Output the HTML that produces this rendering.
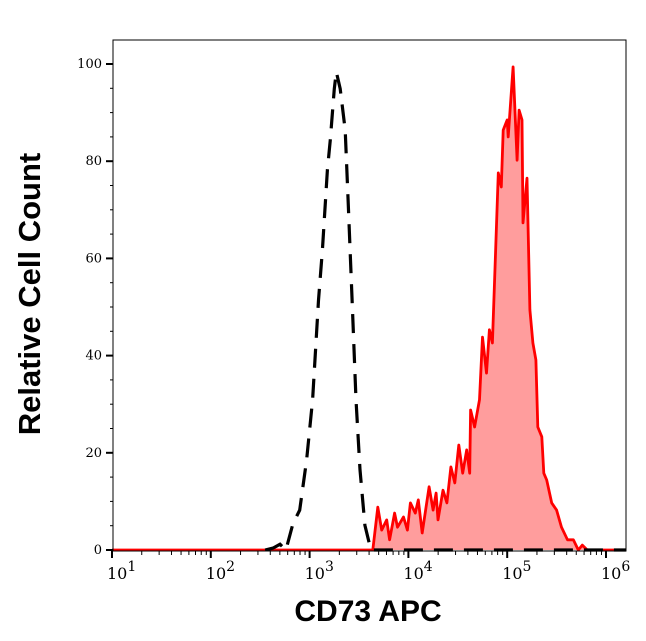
<!DOCTYPE html>
<html><head><meta charset="utf-8"><style>
body{margin:0;background:#fff;width:646px;height:641px;overflow:hidden}
svg{display:block}
.tk{font-family:"DejaVu Serif","Liberation Serif",serif;font-size:13px;fill:#000}
</style></head><body>
<svg id="chart" width="646" height="641">
<g id="marks"></g>
<rect x="113" y="40" width="513" height="511" fill="none" stroke="#000" stroke-width="1"/>
<g id="axes"></g>
<text transform="translate(40 294) rotate(-90)" x="0" y="0" font-family="Liberation Sans,sans-serif" font-weight="bold" font-size="31" text-anchor="middle">Relative Cell Count</text>
<text x="368" y="621" font-family="Liberation Sans,sans-serif" font-weight="bold" font-size="30" text-anchor="middle">CD73 APC</text>
</svg>
<script>
const controlLog=[2.55,2.63,2.70,2.76,2.83,2.90,2.97,3.03,3.09,3.13,3.18,3.21,3.25,3.27,3.31,3.36,3.39,3.43,3.47,3.51,3.56,3.62,4.0,5.0,6.2];
const controlVal=[0,0.4,1.2,0,5.3,8.2,18.5,30.9,51.4,61.7,78.2,84.4,94.9,98.4,94.9,86.4,72,51.4,30.9,16.5,5.1,0,0,0,0];
const stainLog=[1.0,3.62,3.64,3.69,3.73,3.78,3.81,3.86,3.89,3.95,3.99,4.02,4.07,4.10,4.14,4.21,4.25,4.28,4.30,4.35,4.39,4.43,4.47,4.51,4.55,4.59,4.62,4.63,4.67,4.72,4.75,4.79,4.82,4.85,4.88,4.91,4.94,4.96,5.00,5.01,5.06,5.10,5.12,5.15,5.16,5.20,5.23,5.26,5.29,5.31,5.35,5.37,5.40,5.45,5.50,5.55,5.61,5.67,5.72,5.76,5.81,6.2];
const stainVal=[0,0,0,8.8,4.1,6.2,2.1,7.6,4.7,6.8,4.1,9.7,7.6,10.3,3.5,13,8.2,11.7,6.2,12.3,9.7,17.1,13.8,21.6,15.8,20.6,15.8,28.8,25.3,30.9,43.8,36.4,45.3,42.6,59.7,77.6,74.7,86.4,88.5,85,99.4,80.2,90.5,88.5,67.3,76.5,49.4,42.6,39.1,25.3,23.3,15.8,14.4,9.7,8.2,4.7,2.1,2.1,0,1,0,0];
const yTicks=[0,20,40,60,80,100];
const xDecades=[1,2,3,4,5,6];
const NS="http://www.w3.org/2000/svg";
const X0=112,DEC=98.8,Y0=550,YS=4.86;
const xs=l=>X0+(l-1)*DEC, ys=v=>Y0-v*YS;
function mk(t,a,p){const e=document.createElementNS(NS,t);for(const k in a)e.setAttribute(k,a[k]);p.appendChild(e);return e;}
const marks=document.getElementById('marks'),axes=document.getElementById('axes');
let pts=stainLog.map((l,i)=>xs(l).toFixed(1)+','+ys(stainVal[i]).toFixed(1));
const fill=mk('polygon',{points:pts.join(' ')+' '+xs(6.2)+','+Y0+' '+xs(1)+','+Y0,fill:'#ff9d9d',stroke:'none'},marks);


const red=mk('polyline',{points:pts.join(' '),fill:'none',stroke:'#ff0000','stroke-width':2.8,'stroke-linejoin':'round'},marks);


const blk=mk('polyline',{points:controlLog.map((l,i)=>xs(l).toFixed(1)+','+ys(controlVal[i]).toFixed(1)).join(' '),fill:'none',stroke:'#000','stroke-width':3.2,'stroke-dasharray':'19,11'},marks);


for(let v=0;v<=100;v+=5){const maj=v%20===0;const t=mk('line',{x1:113-(maj?7:3),x2:113,y1:ys(v),y2:ys(v),stroke:'#000','stroke-width':maj?2:1},axes);

}
yTicks.forEach(v=>{const t=mk('text',{x:102,y:ys(v)+4,'text-anchor':'end',class:'tk'},axes);t.textContent=v;

});
xDecades.forEach(d=>{const x=xs(d);
const t=mk('line',{x1:x,x2:x,y1:551,y2:558,stroke:'#000','stroke-width':2},axes);


if(d<6)for(let m=2;m<=9;m++){const mx=xs(d+Math.log10(m));const mt=mk('line',{x1:mx,x2:mx,y1:551,y2:555,stroke:'#000','stroke-width':1},axes);

}
const lb=mk('text',{x:x-5,y:579,'text-anchor':'start',class:'tk'},axes);


lb.innerHTML='10<tspan dy="-8" font-size="14">'+d+'</tspan>';
lb.setAttribute('font-size','16');
lb.style.fontSize='16px';});
</script>
</body></html>
